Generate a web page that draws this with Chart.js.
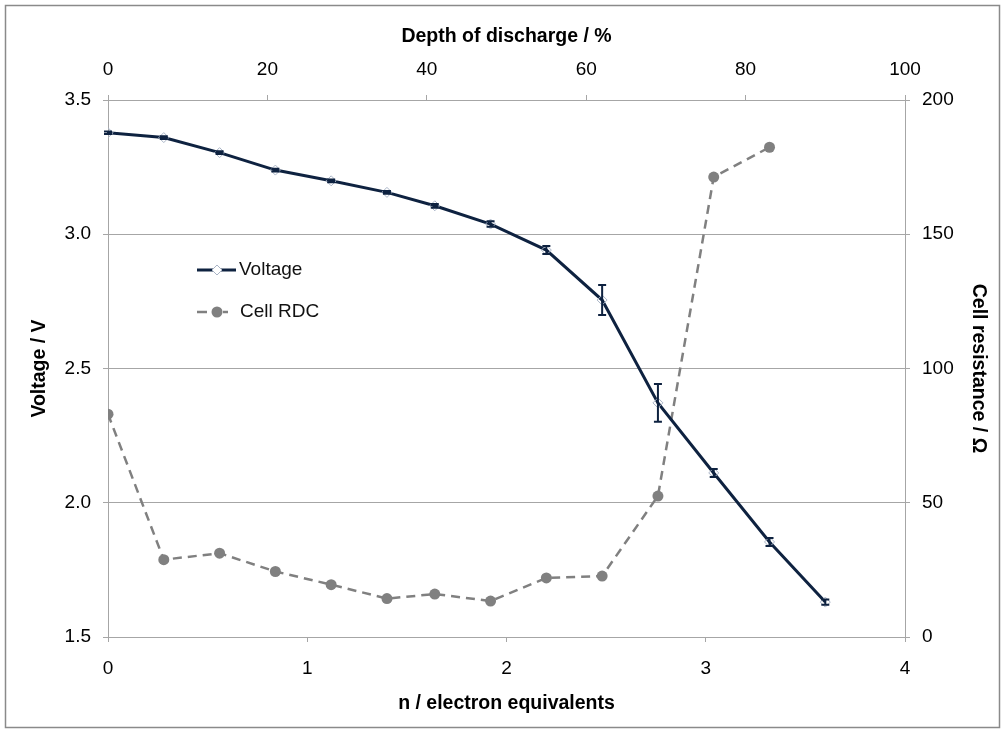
<!DOCTYPE html>
<html>
<head>
<meta charset="utf-8">
<script src="https://cdn.jsdelivr.net/npm/chart.js@4/dist/chart.umd.min.js"></script>
<style>
  html, body { margin: 0; padding: 0; background: #fff; }
  #wrap { width: 1005px; height: 731px; }
</style>
</head>
<body>
<div id="wrap"><canvas id="grafico" width="1005" height="731"></canvas></div>
<script>
// n / electron equivalents
const nValues = [0, 0.28, 0.56, 0.84, 1.12, 1.40, 1.64, 1.92, 2.20, 2.48, 2.76, 3.04, 3.32, 3.60]
// voltage / V with error (+/-)
const voltage = [3.378, 3.360, 3.304, 3.239, 3.199, 3.156, 3.106, 3.038, 2.941, 2.755, 2.372, 2.111, 1.854, 1.630]
const voltageErr = [0.005, 0.005, 0.005, 0.005, 0.005, 0.005, 0.007, 0.01, 0.015, 0.056, 0.07, 0.015, 0.015, 0.01]
// cell RDC / ohm (last point missing)
const nRdc = [0, 0.28, 0.56, 0.84, 1.12, 1.40, 1.64, 1.92, 2.20, 2.48, 2.76, 3.04, 3.32]
const rdc = [83, 28.8, 31.2, 24.4, 19.5, 14.3, 16, 13.4, 22, 22.7, 52.5, 171.3, 182.4]

const navy = '#0e2240'
const grey = '#808080'
const axisGrey = '#a6a6a6'
const fontFam = '"Liberation Sans", Arial, sans-serif'

// error bars drawn through the scales
const errorBars = {
  id: 'errorBars',
  afterDatasetsDraw(chart) {
    const ctx = chart.ctx
    const xs = chart.scales.x
    const ys = chart.scales.y
    ctx.save()
    ctx.strokeStyle = navy
    ctx.lineWidth = 2
    for (let i = 0; i < voltage.length; i++) {
      const px = xs.getPixelForValue(nValues[i])
      const top = ys.getPixelForValue(voltage[i] + voltageErr[i])
      const bot = ys.getPixelForValue(voltage[i] - voltageErr[i])
      ctx.beginPath()
      ctx.moveTo(px, top); ctx.lineTo(px, bot)
      ctx.moveTo(px - 4, top); ctx.lineTo(px + 4, top)
      ctx.moveTo(px - 4, bot); ctx.lineTo(px + 4, bot)
      ctx.stroke()
    }
    ctx.restore()
  }
}

// legend inside the plot + outer frame
const frameAndLegend = {
  id: 'frameAndLegend',
  beforeDraw(chart) {
    const ctx = chart.ctx
    ctx.save()
    ctx.strokeStyle = '#8a8a8a'
    ctx.lineWidth = 1.5
    ctx.strokeRect(5.5, 5.5, 994, 722)
    ctx.restore()
  },
  afterDraw(chart) {
    const ctx = chart.ctx
    const a = chart.chartArea
    const lx = a.left + 89
    const y1 = a.top + 170
    const y2 = a.top + 212
    ctx.save()
    // Voltage
    ctx.strokeStyle = navy
    ctx.lineWidth = 3
    ctx.beginPath(); ctx.moveTo(lx, y1); ctx.lineTo(lx + 39, y1); ctx.stroke()
    ctx.strokeStyle = '#a9b4c6'
    ctx.lineWidth = 1
    ctx.beginPath()
    ctx.moveTo(lx + 20, y1 - 5); ctx.lineTo(lx + 25, y1); ctx.lineTo(lx + 20, y1 + 5); ctx.lineTo(lx + 15, y1); ctx.closePath()
    ctx.fillStyle = '#fff'; ctx.fill(); ctx.stroke()
    // Cell RDC
    ctx.strokeStyle = grey
    ctx.lineWidth = 2.5
    ctx.beginPath()
    ctx.moveTo(lx, y2); ctx.lineTo(lx + 10, y2)
    ctx.moveTo(lx + 26, y2); ctx.lineTo(lx + 31, y2)
    ctx.stroke()
    ctx.fillStyle = grey
    ctx.beginPath(); ctx.arc(lx + 20, y2, 5.5, 0, Math.PI * 2); ctx.fill()
    ctx.fillStyle = '#111'
    ctx.font = '19px ' + fontFam
    ctx.textBaseline = 'middle'
    ctx.fillText('Voltage', lx + 42, y1)
    ctx.fillText('Cell RDC', lx + 43, y2)
    ctx.restore()
  }
}

const tickFont = { family: fontFam, size: 19 }
const titleFont = { family: fontFam, size: 19.5, weight: 'bold' }

const ctx = document.getElementById('grafico').getContext('2d')
new Chart(ctx, {
  type: 'line',
  data: {
    datasets: [
      {
        label: 'Voltage',
        data: nValues.map((v, i) => ({ x: v, y: voltage[i] })),
        yAxisID: 'y',
        borderColor: navy,
        borderWidth: 3,
        pointStyle: 'rectRot',
        pointRadius: 5,
        pointBackgroundColor: 'rgba(255,255,255,0)',
        pointBorderColor: '#a9b4c6',
        pointBorderWidth: 1,
        tension: 0
      },
      {
        label: 'Cell RDC',
        data: nRdc.map((v, i) => ({ x: v, y: rdc[i] })),
        yAxisID: 'y2',
        borderColor: grey,
        borderWidth: 2.5,
        borderDash: [9, 6],
        pointStyle: 'circle',
        pointRadius: 5.5,
        pointBorderWidth: 0,
        pointBackgroundColor: grey,
        pointBorderColor: grey,
        tension: 0
      }
    ]
  },
  options: {
    responsive: false,
    animation: false,
    layout: { padding: 0 },
    plugins: { legend: { display: false }, tooltip: { enabled: false } },
    scales: {
      x: {
        type: 'linear', position: 'bottom', min: 0, max: 4,
        afterFit(s) { s.height = 94 },
        ticks: { stepSize: 1, color: '#000', font: tickFont, padding: 15 },
        grid: { drawOnChartArea: false, drawTicks: true, tickLength: 5, color: axisGrey },
        border: { display: true, color: axisGrey },
        title: { display: true, text: 'n / electron equivalents', color: '#000', font: titleFont, padding: { top: 0, bottom: 16 } }
      },
      x2: {
        type: 'linear', position: 'top', min: 0, max: 100,
        afterFit(s) { s.height = 100 },
        ticks: { stepSize: 20, color: '#000', font: tickFont, padding: 14 },
        grid: { drawOnChartArea: false, drawTicks: true, tickLength: 5, color: axisGrey },
        border: { display: true, color: axisGrey },
        title: { display: true, text: 'Depth of discharge / %', color: '#000', font: titleFont, padding: { top: 24.5, bottom: 0 } }
      },
      y: {
        type: 'linear', position: 'left', min: 1.5, max: 3.5,
        afterFit(s) { s.width = 108 },
        ticks: { stepSize: 0.5, color: '#000', font: tickFont, padding: 12, callback: v => v.toFixed(1) },
        grid: { color: axisGrey, tickLength: 5 },
        border: { display: true, color: axisGrey },
        title: { display: true, text: 'Voltage / V', color: '#000', font: titleFont, padding: { top: 28, bottom: 0 } }
      },
      y2: {
        type: 'linear', position: 'right', min: 0, max: 200,
        afterFit(s) { s.width = 100 },
        ticks: { stepSize: 50, color: '#000', font: tickFont, padding: 12 },
        grid: { drawOnChartArea: false, tickLength: 5, color: axisGrey },
        border: { display: true, color: axisGrey },
        title: { display: true, text: 'Cell resistance / Ω', color: '#000', font: titleFont, padding: { top: 15, bottom: 0 } }
      }
    }
  },
  plugins: [errorBars, frameAndLegend]
})
</script>
</body>
</html>
